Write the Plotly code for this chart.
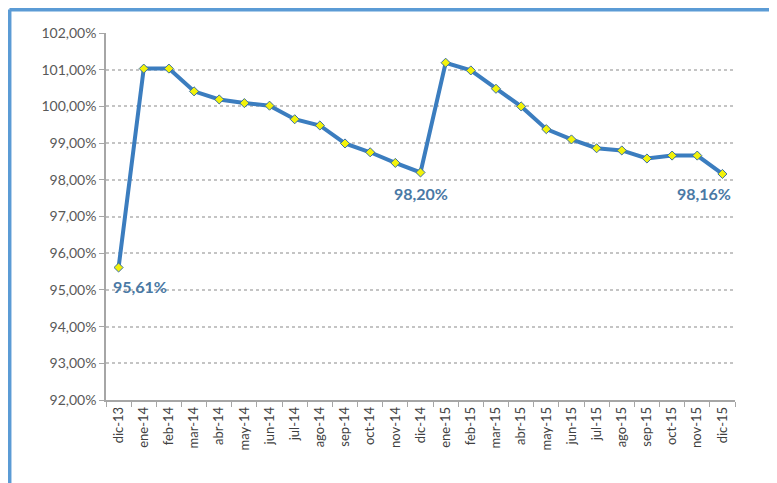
import plotly.graph_objects as go

categories = ["dic-13", "ene-14", "feb-14", "mar-14", "abr-14", "may-14", "jun-14",
              "jul-14", "ago-14", "sep-14", "oct-14", "nov-14", "dic-14",
              "ene-15", "feb-15", "mar-15", "abr-15", "may-15", "jun-15",
              "jul-15", "ago-15", "sep-15", "oct-15", "nov-15", "dic-15"]
values = [95.61, 101.03, 101.03, 100.41, 100.19, 100.09, 100.02,
          99.65, 99.48, 98.99, 98.75, 98.46, 98.20,
          101.19, 100.98, 100.48, 100.00, 99.38, 99.10,
          98.86, 98.80, 98.58, 98.66, 98.66, 98.16]
labeled = {"dic-13": (21, -19), "dic-14": (0, -21), "dic-15": (-18, -20)}
y_ticks = [92, 93, 94, 95, 96, 97, 98, 99, 100, 101, 102]
y_tick_text = ["92,00%", "93,00%", "94,00%", "95,00%", "96,00%", "97,00%",
               "98,00%", "99,00%", "100,00%", "101,00%", "102,00%"]

# page body has an 8px margin; place the plot area at the reference pixels
OFF = 8
L, T, PW, PH = 106 - OFF, 33 - OFF, 628.7, 367

fig = go.Figure()
fig.add_trace(go.Scatter(
    x=categories, y=values, mode="lines+markers",
    line=dict(color="#3b7dbf", width=4),
    marker=dict(symbol="diamond", size=7, color="#f2f20a",
                line=dict(color="#3b6f9f", width=1)),
    hoverinfo="skip", showlegend=False,
))

for cat, (dx, dy) in labeled.items():
    v = values[categories.index(cat)]
    fig.add_annotation(
        x=cat, y=v, text=f"{v:.2f}%".replace(".", ","), showarrow=False,
        xshift=dx, yshift=dy,
        font=dict(family="Lato, Open Sans, sans-serif", size=16, color="#4a79a5",
                  weight="bold"),
    )

# blue frame (top and left), drawn at the figure's top-left edges
top_y = 1 + (T - 1.5) / PH
left_x = (1.5 - L) / PW
fig.add_shape(type="line", xref="paper", yref="paper",
              x0=left_x, x1=(800 - L) / PW, y0=top_y, y1=top_y,
              line=dict(color="#5b9bd5", width=4))
fig.add_shape(type="line", xref="paper", yref="paper",
              x0=left_x, x1=left_x, y0=top_y, y1=-(520 - 400) / PH,
              line=dict(color="#5b9bd5", width=4))

fig.update_layout(
    width=777, height=483,
    margin=dict(l=L, r=777 - L - PW, t=T, b=483 - T - PH),
    paper_bgcolor="white", plot_bgcolor="white",
    font=dict(family="Lato, Open Sans, sans-serif"),
    xaxis=dict(
        type="category", tickangle=-90, tickson="boundaries",
        range=[-0.5, len(categories) - 0.5],
        showline=True, linecolor="#a6a6a6", linewidth=1.5,
        ticks="outside", ticklen=5, tickcolor="#a6a6a6",
        showgrid=False, automargin=False,
        tickfont=dict(size=13, color="#404040"),
    ),
    yaxis=dict(
        range=[92, 102], tickvals=y_ticks, ticktext=y_tick_text,
        showline=True, linecolor="#a6a6a6", linewidth=1.5,
        ticks="outside", ticklen=5, tickcolor="#a6a6a6",
        showgrid=True, gridcolor="#c4c4c4", gridwidth=2, griddash="dot",
        zeroline=False, automargin=False,
        tickfont=dict(size=14, color="#595959"),
    ),
)

fig.write_html("out.html")
